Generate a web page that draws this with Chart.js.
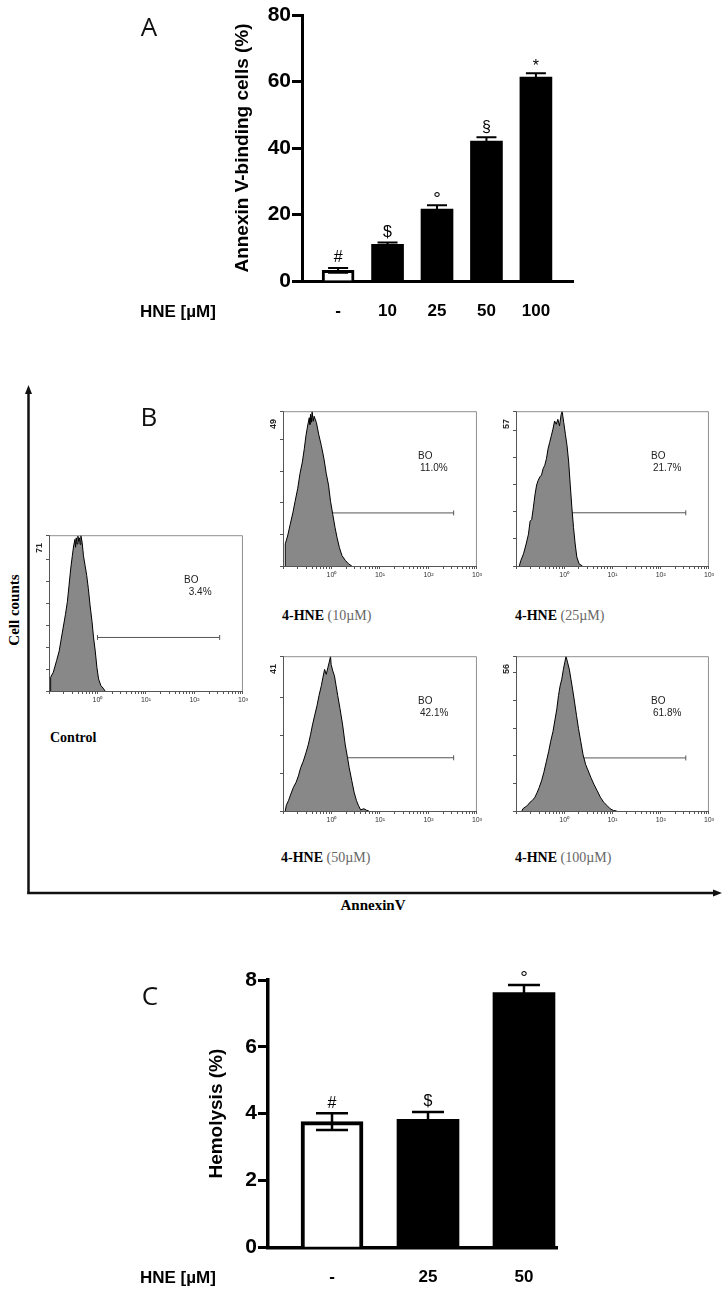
<!DOCTYPE html>
<html><head><meta charset="utf-8">
<script src="https://cdn.jsdelivr.net/npm/chart.js@4.4.1/dist/chart.umd.min.js"></script>
<style>
html,body{margin:0;padding:0;background:#fff;}
#page{position:relative;width:725px;height:1293px;overflow:hidden;background:#fff;}
canvas{position:absolute;}
.t{position:absolute;white-space:nowrap;line-height:1;}
.panel{font-family:"Open Sans",sans-serif;font-size:26px;color:#111;transform:translate(-50%,-50%);}
.hne{font-family:"Liberation Sans",Arial,sans-serif;font-weight:bold;font-size:17px;color:#000;transform:translateY(-50%);}
.serif{font-family:"Liberation Serif","Times New Roman",serif;color:#000;}
.cond{font-size:14px;transform:translateY(-50%);}
.cond b{font-weight:bold;}
.cond span{color:#666;}
</style></head>
<body><div id="page">
<svg width="725" height="1293" style="position:absolute;left:0;top:0">
  <line x1="28.5" y1="392" x2="28.5" y2="894" stroke="#111" stroke-width="2.5"/>
  <polygon points="28.5,385 25,394 32,394" fill="#111"/>
  <line x1="27.3" y1="893" x2="715" y2="893" stroke="#111" stroke-width="2.5"/>
  <polygon points="722,893 713,889.5 713,896.5" fill="#111"/>
</svg>
<canvas id="cA" width="600" height="340" style="left:0;top:0"></canvas>
<canvas id="cC" width="600" height="353" style="left:0;top:940px"></canvas>
<canvas id="h0"></canvas><canvas id="h1"></canvas><canvas id="h2"></canvas><canvas id="h3"></canvas><canvas id="h4"></canvas>

<div class="t panel" style="left:149px;top:26px">A</div>
<div class="t panel" style="left:149px;top:416px">B</div>
<div class="t panel" style="left:150px;top:995px">C</div>
<div class="t hne" style="left:140px;top:311px">HNE [µM]</div>
<div class="t hne" style="left:140px;top:1277px">HNE [µM]</div>
<div class="t serif" style="left:14px;top:610px;transform:translate(-50%,-50%) rotate(-90deg);font-weight:bold;font-size:15px">Cell counts</div>
<div class="t serif" style="left:373px;top:905px;transform:translate(-50%,-50%);font-weight:bold;font-size:15px">AnnexinV</div>
<div class="t serif cond" style="left:50px;top:738px"><b>Control</b></div>
<div class="t serif cond" style="left:282px;top:616px"><b>4-HNE</b> <span>(10µM)</span></div>
<div class="t serif cond" style="left:515px;top:616px"><b>4-HNE</b> <span>(25µM)</span></div>
<div class="t serif cond" style="left:281px;top:858px"><b>4-HNE</b> <span>(50µM)</span></div>
<div class="t serif cond" style="left:515px;top:858px"><b>4-HNE</b> <span>(100µM)</span></div>
</div>
<script>
// ---------- Panel A data ----------
const catsA = ['-', '10', '25', '50', '100'];
const annexinMean = [3.2, 11.0, 21.6, 42.1, 61.3];
const annexinErr = [0.7, 0.6, 1.2, 1.1, 1.2];
const sigA = ['#', '$', '°', '§', '*'];
// ---------- Panel C data ----------
const catsC = ['-', '25', '50'];
const hemoMean = [3.76, 3.83, 7.62];
const hemoErr = [0.25, 0.22, 0.23];
const sigC = ['#', '$', '°'];
// ---------- Panel B data (x = log10 AnnexinV intensity, y = cell counts) ----------
const histMax = [71, 49, 57, 41, 56];
const boPct = [' 3.4%', '11.0%', '21.7%', '42.1%', '61.8%'];
const gateCount = [24.4, 16.8, 19.6, 14.1, 19.2];
const gateLog = [0, 2.52];
const ctrlLog = [-0.966,-0.966,-0.912,-0.844,-0.790,-0.756,-0.709,-0.662,-0.621,-0.587,-0.553,-0.519,-0.492,-0.465,-0.452,-0.438,-0.421,-0.404,-0.388,-0.371,-0.357,-0.343,-0.316,-0.289,-0.255,-0.222,-0.188,-0.154,-0.113,-0.080,-0.046,-0.012,0.022,0.069,0.117,0.157];
const ctrlCount = [0,6.3,8.5,13.8,18.2,22.7,28.7,34.7,40.7,48.1,55.6,61.6,66.1,69.1,65.5,69.8,67.0,70.6,68.2,69.8,66.8,71,67.6,61.6,57.1,52.6,46.6,39.2,31.7,24.2,18.2,10.8,5.5,2.5,1.3,0];
const h10Log = [-0.953,-0.953,-0.905,-0.851,-0.797,-0.750,-0.696,-0.649,-0.601,-0.561,-0.527,-0.493,-0.459,-0.445,-0.432,-0.415,-0.399,-0.378,-0.358,-0.311,-0.264,-0.209,-0.155,-0.108,-0.061,-0.020,0.027,0.074,0.115,0.162,0.216,0.284,0.351,0.419];
const h10Count = [0,7.0,9.5,13.2,16.8,20.5,24.6,29.3,32.9,37.1,41.2,44.3,46.9,44.8,48.0,45.5,49,45.8,47.4,45.4,41.7,38.1,33.9,29.3,25.6,20.5,16.3,12.1,9.0,5.9,3.3,1.8,0.7,0];
const h25Log = [-0.932,-0.898,-0.844,-0.790,-0.742,-0.708,-0.675,-0.641,-0.607,-0.573,-0.539,-0.505,-0.471,-0.437,-0.403,-0.369,-0.336,-0.302,-0.268,-0.234,-0.200,-0.166,-0.132,-0.098,-0.064,-0.044,-0.010,0.024,0.058,0.092,0.125,0.159,0.193,0.227,0.261,0.308,0.376];
const h25Count = [0,2.1,4.5,8.1,11.7,16.5,17.1,21.4,26.2,29.8,31.6,32.8,33.5,35.9,37.1,39.5,43.1,45.5,47.9,50.4,53.4,52.2,54.0,51.6,55.8,57,52.8,48.5,44.3,38.3,29.8,21.4,14.1,8.1,3.3,0.8,0];
const h50Log = [-0.953,-0.932,-0.885,-0.838,-0.784,-0.730,-0.682,-0.635,-0.581,-0.527,-0.480,-0.432,-0.392,-0.345,-0.297,-0.257,-0.209,-0.176,-0.142,-0.108,-0.074,-0.041,-0.020,-0.007,0.027,0.061,0.095,0.128,0.176,0.230,0.284,0.331,0.365,0.419,0.466,0.514,0.554,0.601,0.669,0.723,0.770];
const h50Count = [0,1.5,2.8,4.5,6.3,7.6,9.3,11.5,13.2,15.4,17.5,20.2,22.8,25.4,28.0,30.6,33.2,35.4,37.5,36.2,38.0,39.7,41,38.8,37.1,35.8,33.2,30.6,27.1,22.8,17.5,14.1,11.5,8.0,5.0,2.8,1.5,0.3,0.6,0.2,0];
const h100Log = [-0.878,-0.858,-0.810,-0.763,-0.708,-0.661,-0.607,-0.559,-0.519,-0.471,-0.424,-0.369,-0.322,-0.281,-0.234,-0.193,-0.153,-0.119,-0.085,-0.051,-0.017,0.017,0.037,0.071,0.105,0.139,0.173,0.214,0.254,0.295,0.342,0.390,0.444,0.498,0.553,0.614,0.681,0.749,0.817,0.885,0.953,1.020,1.088];
const h100Count = [0,0.8,1.4,2.0,3.2,3.8,5.0,6.8,8.5,10.9,13.9,18.0,21.6,25.2,28.7,32.9,37.0,41.8,45.3,47.7,51.3,54.2,56,53.6,51.3,47.7,44.1,39.4,34.6,29.9,25.2,20.4,16.8,14.5,12.1,9.7,7.4,5.0,3.2,2.0,0.8,0.2,0];
const decadeTicks = [-1, 0, 1, 2, 3];

const FF = '"Liberation Sans", Arial, Helvetica, sans-serif';

const errPlugin = {
  id: 'errBars',
  afterDatasetsDraw(chart, args, o) {
    const {ctx, scales: {x, y}} = chart;
    ctx.save();
    ctx.strokeStyle = '#000'; ctx.lineWidth = o.lw;
    o.mean.forEach((m, i) => {
      const px = x.getPixelForValue(i + 1);
      const yt = y.getPixelForValue(m + o.err[i]);
      const yb = y.getPixelForValue(m - o.err[i]);
      ctx.beginPath();
      ctx.moveTo(px, yb); ctx.lineTo(px, yt);
      ctx.moveTo(px - o.cap / 2, yt); ctx.lineTo(px + o.cap / 2, yt);
      ctx.moveTo(px - o.cap / 2, yb); ctx.lineTo(px + o.cap / 2, yb);
      ctx.stroke();
      const s = o.sig[i];
      const size = s === '°' ? o.degSize : o.sigSize;
      ctx.font = size + 'px ' + FF;
      ctx.fillStyle = '#000'; ctx.textAlign = 'center'; ctx.textBaseline = 'middle';
      const dy = (s === '°' || s === '*') ? size * 0.22 : 0;
      ctx.fillText(s, px, yt - o.gap + dy);
    });
    ctx.restore();
  }
};

function barChart(id, cats, mean, err, sig, o) {
  return new Chart(document.getElementById(id), {
    type: 'bar',
    data: { datasets: [{
      data: mean.map((v, i) => ({x: i + 1, y: v})),
      backgroundColor: mean.map((v, i) => i === 0 ? '#fff' : '#000'),
      borderColor: '#000',
      borderWidth: mean.map((v, i) => i === 0 ? o.border : 0),
      barThickness: o.barW,
      borderSkipped: 'start'
    }]},
    options: {
      responsive: false, animation: false, devicePixelRatio: 1,
      layout: {padding: o.pad},
      plugins: {legend: {display: false}, tooltip: {enabled: false},
        errBars: {mean: mean, err: err, sig: sig, cap: o.cap, lw: o.elw, gap: 10, sigSize: 16, degSize: 19}},
      scales: {
        x: {type: 'linear', min: o.xmin, max: o.xmax, offset: false,
          grid: {display: false, drawTicks: false, offset: false},
          border: {display: true, color: '#000', width: o.axisW},
          afterBuildTicks: s => { s.ticks = cats.map((c, i) => ({value: i + 1})); },
          ticks: {callback: v => cats[v - 1] ?? '', font: {family: FF, weight: 'bold', size: 17}, color: '#000', padding: 20, autoSkip: false, maxRotation: 0},
          afterFit: s => { s.height = o.xh; }},
        y: {min: 0, max: o.ymax,
          ticks: {stepSize: o.step, font: {family: FF, weight: 'bold', size: 21}, color: '#000', padding: 1},
          grid: {drawOnChartArea: false, drawTicks: true, tickLength: 10, tickWidth: 3, tickColor: '#000'},
          border: {display: true, color: '#000', width: o.axisW},
          title: {display: true, text: o.title, font: {family: FF, weight: 'bold', size: 19}, color: '#000', padding: 0},
          afterFit: s => { s.width = o.yw; }}
      }
    },
    plugins: [errPlugin]
  });
}

barChart('cA', catsA, annexinMean, annexinErr, sigA, {
  pad: {left: 231.6, top: 15, right: 27, bottom: 0}, yw: 70.4, xh: 59,
  xmin: 0.27, xmax: 5.75, ymax: 80, step: 20, barW: 32, border: 3, cap: 20, elw: 2, axisW: 3,
  title: 'Annexin V-binding cells (%)'
});
barChart('cC', catsC, hemoMean, hemoErr, sigC, {
  pad: {left: 205.6, top: 40, right: 43, bottom: 0}, yw: 62.4, xh: 45.7,
  xmin: 0.333, xmax: 3.344, ymax: 8, step: 2, barW: 62, border: 4, cap: 32, elw: 2.5, axisW: 3.5,
  title: 'Hemolysis (%)'
});

// ---------- Panel B histograms ----------
const histDeco = {
  id: 'histDeco',
  afterDatasetsDraw(chart, args, o) {
    const {ctx, chartArea: a} = chart;
    ctx.save();
    ctx.lineWidth = 1;
    ctx.strokeStyle = '#8f8f8f';
    ctx.beginPath();
    ctx.moveTo(a.left, a.top + 0.5); ctx.lineTo(a.right - 0.5, a.top + 0.5); ctx.lineTo(a.right - 0.5, a.bottom);
    ctx.stroke();
    ctx.strokeStyle = '#555';
    ctx.beginPath();
    ctx.moveTo(a.left + 0.5, a.top); ctx.lineTo(a.left + 0.5, a.bottom + 0.5); ctx.lineTo(a.right, a.bottom + 0.5);
    ctx.stroke();
    ctx.translate(a.left - 9.5, a.top + 12.7); ctx.rotate(-Math.PI / 2);
    ctx.font = 'bold 9px ' + FF; ctx.fillStyle = '#222'; ctx.textAlign = 'center'; ctx.textBaseline = 'middle';
    ctx.fillText(String(o.max), 0, 0);
    ctx.restore();
    ctx.save();
    ctx.font = '10px ' + FF; ctx.fillStyle = '#222'; ctx.textBaseline = 'middle'; ctx.textAlign = 'left';
    ctx.fillText('BO', a.left + 135, a.top + 45);
    ctx.fillText(o.pct, a.left + 137, a.top + 57.5);
    ctx.restore();
  }
};
const sup = {'0': '⁰', '1': '¹', '2': '²', '3': '³'};
function histChart(id, box, logs, counts, k) {
  const cv = document.getElementById(id);
  const W = box.r - box.l + 24, H = box.b - box.t + 20;
  cv.width = W; cv.height = H;
  cv.style.left = (box.l - 20) + 'px'; cv.style.top = (box.t - 4) + 'px';
  new Chart(cv, {
    type: 'line',
    data: {datasets: [
      {data: logs.map((x, i) => ({x: x, y: counts[i]})), borderColor: '#000', borderWidth: 1,
       backgroundColor: '#888888', fill: 'origin', pointRadius: 0, tension: 0},
      {data: gateLog.map(x => ({x: x, y: gateCount[k]})), borderColor: '#555', borderWidth: 1, fill: false,
       pointStyle: 'line', rotation: 90, pointRadius: 2.5, pointBorderColor: '#555', pointBorderWidth: 1}
    ]},
    options: {
      responsive: false, animation: false, devicePixelRatio: 1,
      layout: {padding: {left: 0, top: 4, right: 4, bottom: 0}},
      plugins: {legend: {display: false}, tooltip: {enabled: false}, histDeco: {max: histMax[k], pct: boPct[k]}},
      scales: {
        x: {type: 'linear', min: -1, max: 3,
          afterBuildTicks: s => {
            const t = [];
            decadeTicks.forEach(d => { t.push({value: d}); if (d < 3) for (let m = 2; m <= 9; m++) t.push({value: d + Math.log10(m)}); });
            s.ticks = t;
          },
          ticks: {autoSkip: false, maxRotation: 0, padding: 2, color: '#333', font: {family: FF, size: 7},
            callback: v => (Number.isInteger(v) && v >= 0) ? '10' + sup[String(v)] : ''},
          grid: {drawOnChartArea: false, drawTicks: true, tickLength: 3, tickColor: '#555', tickWidth: 1},
          border: {display: false},
          afterFit: s => { s.height = 16; }},
        y: {min: 0, max: histMax[k],
          ticks: {stepSize: 10, callback: () => '', padding: 0},
          grid: {drawOnChartArea: false, drawTicks: true, tickLength: 3, tickColor: '#555', tickWidth: 1},
          border: {display: false},
          afterFit: s => { s.width = 20; }}
      }
    },
    plugins: [histDeco]
  });
}
histChart('h0', {l: 49, r: 246, t: 532, b: 691}, ctrlLog, ctrlCount, 0);
histChart('h1', {l: 283, r: 480, t: 408, b: 566}, h10Log, h10Count, 1);
histChart('h2', {l: 516, r: 712, t: 408, b: 566}, h25Log, h25Count, 2);
histChart('h3', {l: 283, r: 480, t: 653, b: 811}, h50Log, h50Count, 3);
histChart('h4', {l: 516, r: 712, t: 653, b: 811}, h100Log, h100Count, 4);
</script>
</body></html>
